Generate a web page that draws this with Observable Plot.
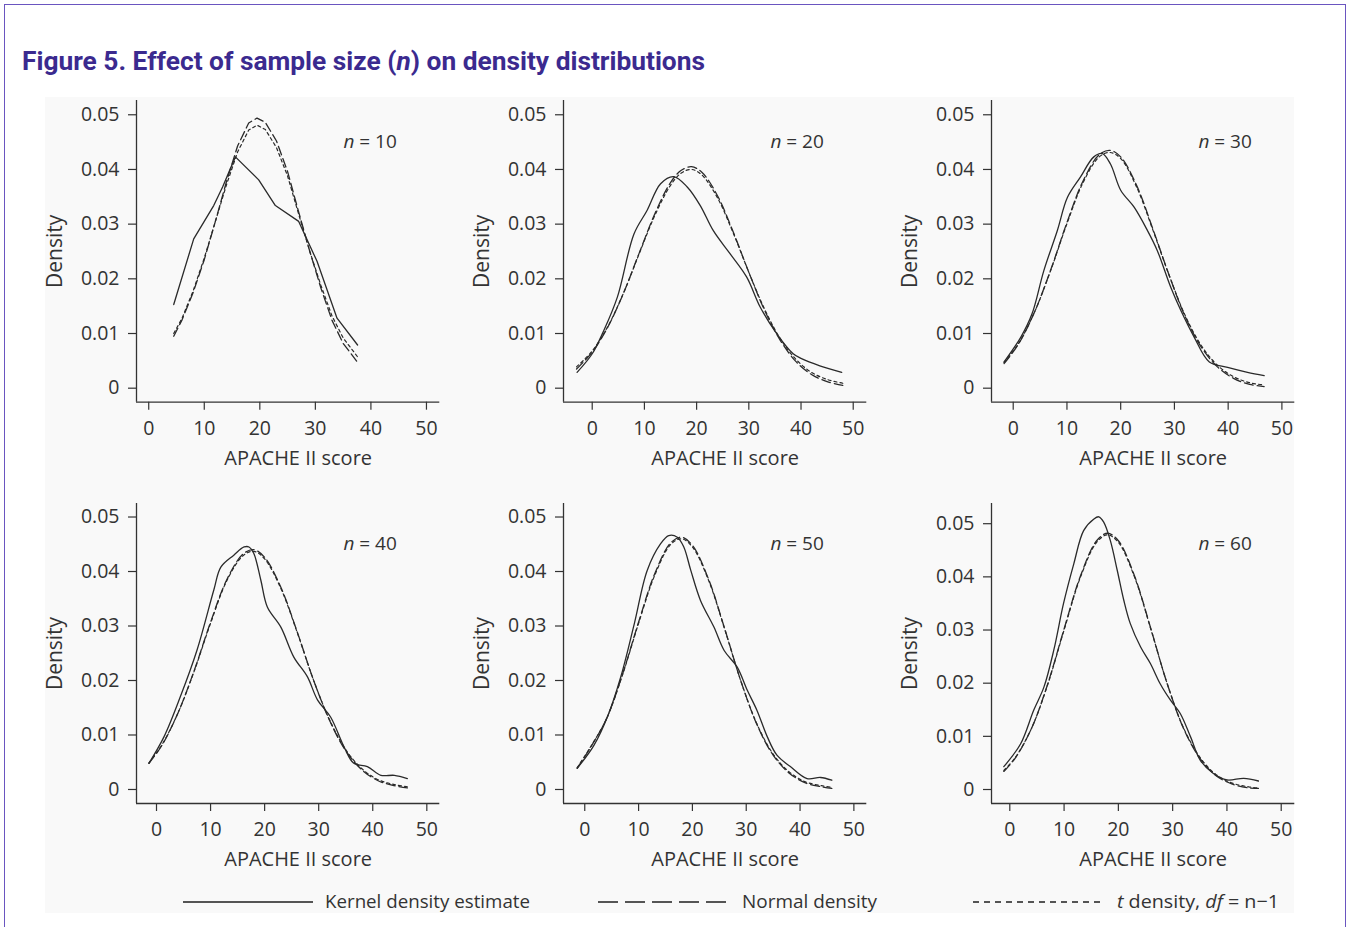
<!DOCTYPE html>
<html><head><meta charset="utf-8">
<script src="https://cdn.jsdelivr.net/npm/d3@7"></script>
<script src="https://cdn.jsdelivr.net/npm/@observablehq/plot@0.6"></script>
<style>
body{margin:0;background:#fff;}
#page{position:relative;width:1350px;height:927px;overflow:hidden;font-family:"Open Sans",sans-serif;background:#fff;}
#border{position:absolute;left:4px;top:4px;width:1342px;height:960px;border:1.5px solid #6a55c0;box-sizing:border-box;}
#panelbg{position:absolute;left:45px;top:97px;width:1249px;height:816px;background:#f9f9f9;}
.panel{position:absolute;}
svg.abs{position:absolute;left:0;}
</style></head><body>
<div id="page">
  <div id="border"></div>
  <div id="panelbg"></div>
  <svg class="abs" style="top:0" width="1350" height="100">
    <text x="22" y="70" font-family="Roboto, sans-serif" font-weight="700" font-size="25" fill="#3b2a8f" textLength="683" lengthAdjust="spacingAndGlyphs">Figure 5. Effect of sample size (<tspan font-style="italic">n</tspan>) on density distributions</text>
  </svg>
  <div id="panels"></div>
  <svg class="abs" style="top:880px" width="1350" height="45">
    <g stroke="#555" stroke-width="1.8" fill="none">
      <line x1="183" x2="313" y1="22" y2="22"/>
      <line x1="598" x2="728" y1="22" y2="22" stroke-dasharray="20,7"/>
      <line x1="973" x2="1100" y1="22" y2="22" stroke-dasharray="6,5"/>
    </g>
    <g font-family="Open Sans, sans-serif" font-size="18.5" fill="#333">
      <text x="325" y="28" textLength="205" lengthAdjust="spacingAndGlyphs">Kernel density estimate</text>
      <text x="742" y="28" textLength="135" lengthAdjust="spacingAndGlyphs">Normal density</text>
      <text x="1117" y="28" textLength="162" lengthAdjust="spacingAndGlyphs"><tspan font-style="italic">t</tspan> density, <tspan font-style="italic">df</tspan> = n−1</text>
    </g>
  </svg>
</div>
<script>
// ---- data ----
const sampleSizes = [10, 20, 30, 40, 50, 60];
const xTicks = [0, 10, 20, 30, 40, 50];
const yTicks = [0, 0.01, 0.02, 0.03, 0.04, 0.05];

const kernel10 = [[4.5,0.0153],[8.1,0.0273],[11.7,0.0334],[13.3,0.0368],[15.6,0.0423],[19.8,0.0381],[22.8,0.0334],[27.0,0.0305],[30.3,0.0232],[33.9,0.0128],[37.6,0.0079]];
const grid10 = [4.5, 6, 8, 10, 12, 14, 16, 18, 19.5, 21, 23, 25, 27, 29, 31, 33, 35, 37.7];
const normal10 = [0.0095, 0.0125, 0.0175, 0.0235, 0.0305, 0.0378, 0.0443, 0.0485, 0.0494, 0.0486, 0.0452, 0.0396, 0.0322, 0.0250, 0.0183, 0.0124, 0.0082, 0.0046];
const t10 = [0.0100, 0.0128, 0.0178, 0.0238, 0.0305, 0.0372, 0.0432, 0.0472, 0.0481, 0.0473, 0.0440, 0.0388, 0.0318, 0.0250, 0.0188, 0.0132, 0.0092, 0.0056];

const kernel20 = [[-2.9,0.0029],[0,0.0063],[2.2,0.0105],[4.8,0.0166],[8.0,0.0282],[10.5,0.0325],[13.1,0.0374],[15.6,0.0387],[18.2,0.0368],[20.7,0.0334],[23.2,0.0288],[26.4,0.0246],[29.6,0.0203],[32.2,0.0148],[35.4,0.0099],[38.5,0.0063],[40.1,0.0054],[43.6,0.0041],[47.8,0.0029]];
const grid20 = [-3, 0, 3, 6, 9, 12, 15, 17, 19, 21, 24, 27, 30, 33, 36, 39, 42, 45, 48];
const normal20 = [0.0035, 0.0066, 0.0112, 0.0174, 0.0247, 0.0319, 0.0376, 0.0398, 0.0405, 0.0395, 0.0352, 0.0286, 0.0212, 0.0143, 0.0088, 0.0049, 0.0025, 0.0012, 0.0005];
const t20 = [0.0039, 0.0068, 0.0113, 0.0174, 0.0246, 0.0316, 0.0371, 0.0393, 0.0400, 0.0390, 0.0348, 0.0284, 0.0212, 0.0145, 0.0091, 0.0053, 0.0029, 0.0016, 0.0009];

const kernel30 = [[-1.7,0.0048],[1.4,0.0093],[3.5,0.0136],[5.7,0.0215],[8.2,0.0288],[10.1,0.0349],[12.5,0.0386],[15.0,0.0423],[16.6,0.0429],[18.1,0.0410],[20.0,0.0362],[22.5,0.0331],[25.0,0.0288],[26.8,0.0252],[29.3,0.0185],[31.2,0.0142],[33.7,0.0093],[36.5,0.0048],[39.9,0.0038],[43.6,0.0029],[46.7,0.0023]];
const grid30 = [-1.7, 1, 4, 7, 10, 13, 16, 18, 20, 23, 26, 29, 32, 35, 38, 41, 44, 46.7];
const normal30 = [0.0045, 0.0081, 0.0140, 0.0217, 0.0303, 0.0379, 0.0427, 0.0435, 0.0423, 0.0370, 0.0291, 0.0207, 0.0131, 0.0075, 0.0039, 0.0018, 0.0007, 0.0003];
const t30 = [0.0047, 0.0082, 0.0140, 0.0216, 0.0301, 0.0376, 0.0423, 0.0431, 0.0420, 0.0367, 0.0289, 0.0207, 0.0133, 0.0078, 0.0042, 0.0021, 0.0010, 0.0006];

const kernel40 = [[-1.4,0.0048],[1.4,0.0097],[4.4,0.0170],[7.5,0.0256],[10.6,0.0366],[11.9,0.0408],[14.3,0.0430],[16.2,0.0445],[17.1,0.0445],[18.0,0.0433],[19.3,0.0384],[20.5,0.0335],[23.0,0.0298],[25.4,0.0243],[27.9,0.0207],[29.8,0.0164],[32.2,0.0133],[34.7,0.0078],[36.5,0.0048],[39.0,0.0042],[41.5,0.0026],[44.0,0.0026],[46.4,0.0020]];
const grid40 = [-1.4, 1, 4, 7, 10, 13, 16, 18, 20, 23, 26, 29, 32, 35, 38, 41, 44, 46.4];
const normal40 = [0.0048, 0.0081, 0.0141, 0.0219, 0.0307, 0.0385, 0.0432, 0.0440, 0.0426, 0.0371, 0.0290, 0.0202, 0.0127, 0.0071, 0.0036, 0.0016, 0.0007, 0.0003];
const t40 = [0.0049, 0.0082, 0.0141, 0.0218, 0.0305, 0.0383, 0.0429, 0.0437, 0.0423, 0.0369, 0.0289, 0.0202, 0.0128, 0.0073, 0.0038, 0.0018, 0.0009, 0.0005];

const kernel50 = [[-1.4,0.0039],[1.7,0.0081],[4.2,0.0133],[6.7,0.0207],[9.2,0.0304],[11.6,0.0402],[14.1,0.0451],[15.6,0.0466],[17.2,0.0463],[18.4,0.0445],[19.7,0.0402],[21.5,0.0347],[24.0,0.0298],[25.9,0.0255],[28.3,0.0225],[30.2,0.0182],[32.0,0.0145],[33.9,0.0097],[35.7,0.0063],[38.2,0.0042],[41.3,0.0020],[43.8,0.0022],[45.9,0.0017]];
const grid50 = [-1.4, 1, 4, 7, 10, 13, 16, 18, 20, 23, 26, 29, 32, 35, 38, 41, 44, 45.9];
const normal50 = [0.0039, 0.0076, 0.0129, 0.0211, 0.0307, 0.0396, 0.0453, 0.0463, 0.0448, 0.0386, 0.0295, 0.0199, 0.0119, 0.0063, 0.0030, 0.0012, 0.0005, 0.0002];
const t50 = [0.0040, 0.0077, 0.0129, 0.0210, 0.0305, 0.0393, 0.0450, 0.0460, 0.0445, 0.0384, 0.0294, 0.0199, 0.0120, 0.0065, 0.0032, 0.0014, 0.0007, 0.0004];

const kernel60 = [[-1.1,0.0043],[2.0,0.0086],[4.4,0.0149],[6.3,0.0193],[8.1,0.0262],[9.9,0.0350],[11.8,0.0425],[13.6,0.0487],[15.5,0.0509],[16.4,0.0513],[17.3,0.0503],[18.5,0.0469],[19.8,0.0412],[21.0,0.0356],[22.2,0.0312],[24.1,0.0268],[25.9,0.0237],[27.7,0.0199],[29.6,0.0168],[31.4,0.0143],[33.3,0.0099],[35.1,0.0055],[37.5,0.0030],[40.0,0.0018],[43.1,0.0021],[45.8,0.0016]];
const grid60 = [-1.1, 1, 4, 7, 10, 13, 16, 18, 20, 23, 26, 29, 32, 35, 38, 41, 44, 45.8];
const normal60 = [0.0034, 0.0059, 0.0115, 0.0199, 0.0302, 0.0401, 0.0468, 0.0482, 0.0468, 0.0401, 0.0302, 0.0199, 0.0115, 0.0059, 0.0026, 0.0010, 0.0003, 0.0002];
const t60 = [0.0036, 0.0060, 0.0115, 0.0198, 0.0300, 0.0399, 0.0465, 0.0479, 0.0465, 0.0399, 0.0301, 0.0199, 0.0116, 0.0061, 0.0028, 0.0012, 0.0005, 0.0003];

// ---- layout ----
const ML = 100, MR = 12, MT = 12, MB = 72, FW = 303.3;
const panels = [
  {n: 10, kernel: kernel10, grid: grid10, normal: normal10, t: t10, fx: 136,   fy: 100,   fh: 301.7, xd: [-2.2, 52.4],  yd: [-0.00256, 0.05261], curve: "linear"},
  {n: 20, kernel: kernel20, grid: grid20, normal: normal20, t: t20, fx: 562.7, fy: 100,   fh: 301.7, xd: [-5.5, 52.6],  yd: [-0.00256, 0.05261], curve: "catmull-rom"},
  {n: 30, kernel: kernel30, grid: grid30, normal: normal30, t: t30, fx: 991,   fy: 100,   fh: 301.7, xd: [-4.04, 52.4], yd: [-0.00256, 0.05261], curve: "catmull-rom"},
  {n: 40, kernel: kernel40, grid: grid40, normal: normal40, t: t40, fx: 136,   fy: 503.3, fh: 300,   xd: [-3.7, 52.4],  yd: [-0.00257, 0.05248], curve: "catmull-rom"},
  {n: 50, kernel: kernel50, grid: grid50, normal: normal50, t: t50, fx: 562.7, fy: 503.3, fh: 300,   xd: [-3.95, 52.4], yd: [-0.00257, 0.05248], curve: "catmull-rom"},
  {n: 60, kernel: kernel60, grid: grid60, normal: normal60, t: t60, fx: 991,   fy: 503.3, fh: 300,   xd: [-3.37, 52.5], yd: [-0.00263, 0.0538],  curve: "catmull-rom"}
];

const fmt = d => d === 0 ? "0" : d3.format(".2f")(d);
const host = document.getElementById("panels");
const ink = "#2a2a2a";

panels.forEach(p => {
  const kRows = p.kernel.map(([x, y]) => ({x, y}));
  const rows = p.grid.map((x, i) => ({x, normal: p.normal[i], t: p.t[i]}));
  const label = `n = ${p.n}`;
  const chart = Plot.plot({
    width: ML + FW + MR,
    height: MT + p.fh + MB,
    marginLeft: ML, marginRight: MR, marginTop: MT, marginBottom: MB,
    x: {domain: p.xd},
    y: {domain: p.yd},
    style: {fontFamily: '"Open Sans", sans-serif', fontSize: "19.5px", color: "#333", background: "transparent", overflow: "visible"},
    marks: [
      Plot.axisX({ticks: xTicks, tickSize: 8, tickPadding: 11, label: null, strokeWidth: 1.2}),
      Plot.axisY({ticks: yTicks, tickFormat: fmt, tickSize: 8, tickPadding: 9, label: null, strokeWidth: 1.2}),
      Plot.ruleX([p.xd[0]], {stroke: "#333", strokeWidth: 1.3}),
      Plot.ruleY([p.yd[0]], {stroke: "#333", strokeWidth: 1.3}),
      Plot.line(kRows, {x: "x", y: "y", stroke: ink, strokeWidth: 1.3, curve: p.curve}),
      Plot.line(rows, {x: "x", y: "normal", stroke: ink, strokeWidth: 1.3, strokeDasharray: "9,4", curve: p.curve}),
      Plot.line(rows, {x: "x", y: "t", stroke: ink, strokeWidth: 1.2, strokeDasharray: "3,3", curve: p.curve}),
      Plot.text(["Density"], {text: d => d, frameAnchor: "left", textAnchor: "middle", lineAnchor: "middle", rotate: -90, dx: -81, fill: "#333", fontSize: 21}),
      Plot.text(["APACHE II score"], {text: d => d, frameAnchor: "bottom", textAnchor: "middle", lineAnchor: "middle", dy: 56, dx: 10, fill: "#333", fontSize: 20}),
      Plot.text([label], {text: d => d, frameAnchor: "top-right", textAnchor: "end", lineAnchor: "middle", dx: -43, dy: p.fy > 200 ? 40 : 41.5, fill: "#333", fontSize: 19})
    ]
  });
  // italic n
  chart.querySelectorAll("text").forEach(t => {
    if (t.textContent === label) {
      t.textContent = "";
      const ns = "http://www.w3.org/2000/svg";
      const a = document.createElementNS(ns, "tspan");
      a.setAttribute("font-style", "italic");
      a.textContent = "n";
      const b = document.createElementNS(ns, "tspan");
      b.textContent = ` = ${p.n}`;
      t.appendChild(a); t.appendChild(b);
    }
  });
  const div = document.createElement("div");
  div.className = "panel";
  div.style.left = (p.fx - ML) + "px";
  div.style.top = (p.fy - MT) + "px";
  div.appendChild(chart);
  host.appendChild(div);
});
</script>
</body></html>
